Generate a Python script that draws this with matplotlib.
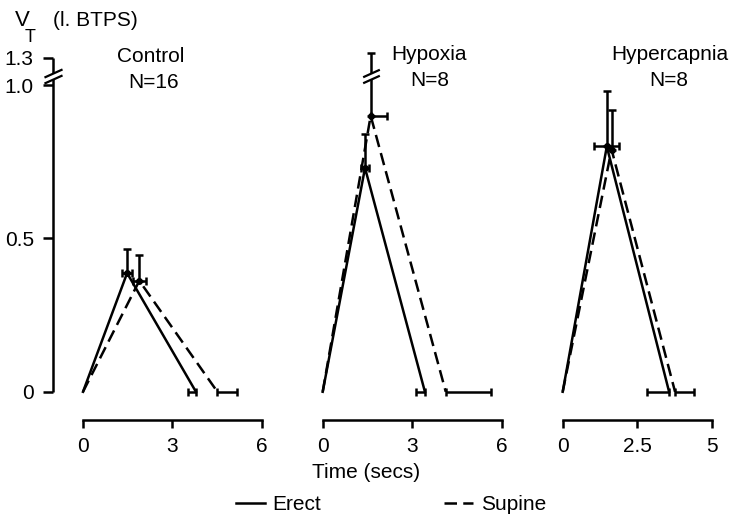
import numpy as np
import matplotlib
matplotlib.use("Agg")
import matplotlib.pyplot as plt

plt.rcParams['font.family'] = ['Liberation Sans', 'DejaVu Sans']

# tidal volume (l. BTPS) vs time (secs), mean +/- SD
panels = ["Control", "Hypoxia", "Hypercapnia"]
n_subjects = [16, 8, 8]
x_ticks = [[0, 3, 6], [0, 3, 6], [0, 2.5, 5]]
x_tick_labels = [["0", "3", "6"], ["0", "3", "6"], ["0", "2.5", "5"]]

erect_peak_t = [1.48, 1.42, 1.48]
erect_peak_v = [0.387, 0.73, 0.80]
erect_peak_sd_v = [0.078, 0.11, 0.18]
erect_peak_sd_t = [0.17, 0.13, 0.42]
erect_end_t = [3.79, 3.43, 3.57]
erect_end_sd = [0.28, 0.30, 0.75]

supine_peak_t = [1.89, 1.61, 1.64]
supine_peak_v = [0.362, 0.90, 0.79]
supine_peak_sd_v = [0.084, 0.45, 0.13]
supine_peak_sd_t_lo = [0.22, 0.0, 0.0]
supine_peak_sd_t_hi = [0.22, 0.55, 0.0]
supine_end_t = [4.51, 4.13, 3.77]
supine_end_sd = [0.65, 1.51, 0.65]

y_ticks = [0, 0.5, 1.0, 1.3]
y_tick_labels = ["0", "0.5", "1.0", "1.3"]
y_break = (1.065, 1.135)

# layout in pixels (733x518 figure)
W, H = 733, 518
zero_px = [83, 322.7, 562.7]
px_per_sec = 29.8
xlims = [(-1.0, 6.3), (-0.3, 6.3), (-0.3, 5.5)]
ax_bottom, ax_top = 420, 52
ylim = (-0.092, 1.36)


# compress the part above the break (1.0 .. 1.3)
def fwd(y):
    y = np.asarray(y, dtype=float)
    return np.where(y <= 1.0, y, 1.0 + (y - 1.0) * 0.3)


def inv(y):
    y = np.asarray(y, dtype=float)
    return np.where(y <= 1.0, y, 1.0 + (y - 1.0) / 0.3)


LW = 1.8
DASH = (5, 2.5)
break_marker = [(-1, -0.45), (1, 0.45)]

fig = plt.figure(figsize=(W / 100, H / 100), dpi=100)

axes = []
for i in range(3):
    left = zero_px[i] + xlims[i][0] * px_per_sec
    right = zero_px[i] + xlims[i][1] * px_per_sec
    ax = fig.add_axes([left / W, (H - ax_bottom) / H, (right - left) / W, (ax_bottom - ax_top) / H])
    ax.set_yscale('function', functions=(fwd, inv))
    ax.set_xlim(*xlims[i])
    ax.set_ylim(*ylim)
    ax.patch.set_alpha(0)
    axes.append(ax)

    # erect (solid)
    ax.plot([0, erect_peak_t[i], erect_end_t[i]], [0, erect_peak_v[i], 0],
            color="k", lw=LW, label="Erect")
    # supine (dashed)
    ax.plot([0, supine_peak_t[i], supine_end_t[i]], [0, supine_peak_v[i], 0],
            color="k", lw=LW, ls=(0, DASH), label="Supine")

    ax.errorbar(erect_peak_t[i], erect_peak_v[i],
                xerr=[[erect_peak_sd_t[i]], [erect_peak_sd_t[i]]],
                yerr=[[0], [erect_peak_sd_v[i]]],
                fmt="o", ms=4, color="k", elinewidth=LW, capsize=3, capthick=LW, clip_on=False)
    sxerr = None
    if supine_peak_sd_t_lo[i] or supine_peak_sd_t_hi[i]:
        sxerr = [[supine_peak_sd_t_lo[i]], [supine_peak_sd_t_hi[i]]]
    ax.errorbar(supine_peak_t[i], supine_peak_v[i], xerr=sxerr,
                yerr=[[0], [supine_peak_sd_v[i]]],
                fmt="o", ms=4, color="k", elinewidth=LW, capsize=3, capthick=LW, clip_on=False)

    # SD of expiration time along the baseline
    ax.errorbar(erect_end_t[i], 0, xerr=[[erect_end_sd[i]], [0]], fmt="none",
                color="k", elinewidth=LW, capsize=3, capthick=LW)
    ax.errorbar(supine_end_t[i], 0, xerr=[[0], [supine_end_sd[i]]], fmt="none",
                color="k", elinewidth=LW, capsize=3, capthick=LW)

    # error bars running past the axis break
    top = supine_peak_v[i] + supine_peak_sd_v[i]
    if top > y_break[1]:
        ax.plot([supine_peak_t[i]] * 2, list(y_break), color="white", lw=4, zorder=5,
                solid_capstyle="butt")
        ax.plot([supine_peak_t[i]] * 2, list(y_break), ls="none", marker=break_marker,
                ms=12, mew=1.6, color="k", zorder=6)

    # detached time axis
    for s in ["top", "right", "left"]:
        ax.spines[s].set_visible(False)
    ax.spines["bottom"].set_bounds(x_ticks[i][0], x_ticks[i][-1])
    ax.spines["bottom"].set_linewidth(LW)
    ax.set_xticks(x_ticks[i], x_tick_labels[i], fontsize=15)
    ax.tick_params(axis="x", direction="out", length=6, width=LW, pad=6)
    if i > 0:
        ax.set_yticks([])
    ax.minorticks_off()

# volume axis on the first panel, with a break between 1.0 and 1.3
ax0 = axes[0]
ax0.set_yticks(y_ticks, y_tick_labels, fontsize=15)
ax0.tick_params(axis="y", direction="out", length=7, width=LW, pad=7)
ax0.yaxis.set_minor_locator(matplotlib.ticker.NullLocator())
ytr = ax0.get_yaxis_transform()
ax0.plot([0, 0], [0, y_break[0]], transform=ytr, color="k", lw=LW, clip_on=False,
         solid_capstyle="butt")
ax0.plot([0, 0], [y_break[1], y_ticks[-1]], transform=ytr, color="k", lw=LW, clip_on=False,
         solid_capstyle="butt")
ax0.plot([0, 0], list(y_break), transform=ytr, ls="none", marker=break_marker,
         ms=13, mew=1.6, color="k", clip_on=False)

# panel titles
title_pos = [(151, 57, 154, 83), (429, 55, 430, 80), (670, 54, 669, 80)]
for i, (tx, ty, nx, ny) in enumerate(title_pos):
    fig.text(tx / W, 1 - ty / H, panels[i], ha="center", va="center", fontsize=15)
    fig.text(nx / W, 1 - ny / H, f"N={n_subjects[i]}", ha="center", va="center", fontsize=15)

# y label
fig.text(15 / W, 1 - 21 / H, "V", ha="left", va="center", fontsize=16)
fig.text(25 / W, 1 - 37 / H, "T", ha="left", va="center", fontsize=13)
fig.text(53 / W, 1 - 21 / H, "(l. BTPS)", ha="left", va="center", fontsize=15)

fig.text(366 / W, 1 - 473 / H, "Time (secs)", ha="center", va="center", fontsize=15)

handles = ax0.get_lines()[:2]
fig.legend(handles, ["Erect", "Supine"], loc="center", bbox_to_anchor=(391 / W, 1 - 505 / H),
           ncol=2, frameon=False, fontsize=15, handlelength=1.4, handletextpad=0.35,
           columnspacing=5.9)

fig.savefig("out.png", dpi=100)
